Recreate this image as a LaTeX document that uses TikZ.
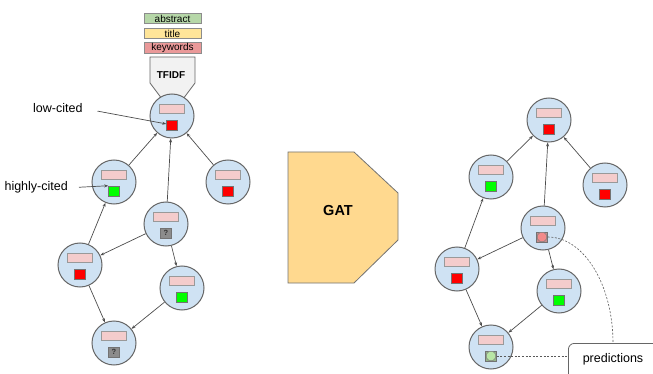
\documentclass[tikz,border=0pt]{standalone}
\usepackage{fontspec}
\setmainfont{Liberation Sans}
\usetikzlibrary{arrows.meta,shapes.geometric}

\definecolor{paperblue}{HTML}{CFE2F3}
\definecolor{barpink}{HTML}{F4CCCC}
\definecolor{abstractgreen}{HTML}{B6D7A8}
\definecolor{titleyellow}{HTML}{FFE599}
\definecolor{keywordred}{HTML}{EA9999}
\definecolor{gatorange}{HTML}{FFD98F}
\definecolor{predred}{HTML}{C98C8C}
\definecolor{octred}{HTML}{F28A8A}
\definecolor{predgreen}{HTML}{94B886}
\definecolor{octgreen}{HTML}{B9E6A5}

\begin{document}
\begin{tikzpicture}[x=1pt,y=-1pt,
  paper/.style={circle,draw=black!60,line width=1pt,fill=paperblue,minimum size=44pt,inner sep=0pt},
  bar/.style={draw=black!40,line width=0.6pt,fill=barpink,minimum width=25pt,minimum height=9pt,inner sep=0pt},
  tagbox/.style={draw=black!55,line width=0.5pt,minimum width=11pt,minimum height=10pt,inner sep=0pt},
  redtag/.style={tagbox,fill=red},
  greentag/.style={tagbox,fill=green},
  unknowntag/.style={tagbox,fill=black!45,text=black!80,font=\fontsize{7.5}{7.5}\selectfont\bfseries},
  octo/.style={regular polygon,regular polygon sides=8,draw=black!50,line width=0.5pt,minimum size=10pt,inner sep=0pt},
  field/.style={draw=black!45,line width=0.6pt,minimum width=57pt,minimum height=10.5pt,inner sep=0pt,font=\fontsize{10}{10}\selectfont},
  link/.style={-{Stealth[length=4pt,width=3pt]},draw=black!70,line width=0.7pt},
  hint/.style={draw=black!65,line width=0.6pt,dash pattern=on 2pt off 1.6pt},
  note/.style={font=\fontsize{12.5}{15}\selectfont,inner sep=1pt}]
\useasboundingbox (0,0) rectangle (653,374);

% ---------------- text fields and TFIDF ----------------
\node[field,fill=abstractgreen] (abstract) at (172.5,18.5) {abstract};
\node[field,fill=titleyellow] (title) at (172.5,33.5) {title};
\node[field,fill=keywordred] (keywords) at (172.5,48) {keywords};
\draw[draw=black!60,line width=0.8pt,fill=black!5]
  (150,57) -- (195,57) -- (195,83) -- (183,99) -- (162,99) -- (150,83) -- cycle;
\node[font=\fontsize{10}{10}\selectfont\bfseries] (tfidf) at (171,75) {TFIDF};

% ---------------- citation graph before ----------------
\node[paper] (l1) at (172,116) {}; \node[bar] (l1bar) at (172,109) {}; \node[redtag] (l1tag) at (172,125) {};
\node[paper] (l2) at (114,182) {}; \node[bar] (l2bar) at (114,175) {}; \node[greentag] (l2tag) at (114,191) {};
\node[paper] (l3) at (228,182) {}; \node[bar] (l3bar) at (228,175) {}; \node[redtag] (l3tag) at (228,191) {};
\node[paper] (l4) at (166,224) {}; \node[bar] (l4bar) at (166,217) {}; \node[unknowntag] (l4tag) at (166,233) {?};
\node[paper] (l5) at (80,265) {}; \node[bar] (l5bar) at (80,258) {}; \node[redtag] (l5tag) at (80,274) {};
\node[paper] (l6) at (182,288) {}; \node[bar] (l6bar) at (182,281) {}; \node[greentag] (l6tag) at (182,297) {};
\node[paper] (l7) at (114,343) {}; \node[bar] (l7bar) at (114,336) {}; \node[unknowntag] (l7tag) at (114,352) {?};

\draw[link] (l2) -- (l1);
\draw[link] (l4) -- (l1);
\draw[link] (l3) -- (l1);
\draw[link] (l5) -- (l2);
\draw[link] (l4) -- (l5);
\draw[link] (l4) -- (l6);
\draw[link] (l5) -- (l7);
\draw[link] (l6) -- (l7);

\node[note,anchor=base west] (lowcited) at (32,113) {low-cited};
\node[note,anchor=base east] (highlycited) at (69,191) {highly-cited};
\draw[link,shorten <=14pt] (lowcited.east) -- (l1tag);
\draw[link,shorten <=10pt] (highlycited.east) -- (l2tag.north west);

% ---------------- GAT ----------------
\draw[draw=black!55,line width=0.8pt,fill=gatorange]
  (288,152) -- (354,152) -- (398,193) -- (398,240) -- (354,283) -- (288,283) -- cycle;
\node[font=\fontsize{14.5}{17}\selectfont\bfseries] (gat) at (338,211) {GAT};

% ---------------- citation graph after ----------------
\node[paper] (r1) at (549,120) {}; \node[bar] (r1bar) at (549,113) {}; \node[redtag] (r1tag) at (549,129) {};
\node[paper] (r2) at (491,177) {}; \node[bar] (r2bar) at (491,170) {}; \node[greentag] (r2tag) at (491,186) {};
\node[paper] (r3) at (605,185) {}; \node[bar] (r3bar) at (605,178) {}; \node[redtag] (r3tag) at (605,194) {};
\node[paper] (r4) at (543,228) {}; \node[bar] (r4bar) at (543,221) {}; \node[tagbox,fill=predred] (r4tag) at (542,237) {};
\node[paper] (r5) at (457,269) {}; \node[bar] (r5bar) at (457,262) {}; \node[redtag] (r5tag) at (457,278) {};
\node[paper] (r6) at (559,291) {}; \node[bar] (r6bar) at (559,284) {}; \node[greentag] (r6tag) at (559,300) {};
\node[paper] (r7) at (491,347) {}; \node[bar] (r7bar) at (491,340) {}; \node[tagbox,fill=predgreen] (r7tag) at (491,356) {};
\node[octo,fill=octred] (r4oct) at (r4tag) {};
\node[octo,fill=octgreen] (r7oct) at (r7tag) {};

\draw[link] (r2) -- (r1);
\draw[link] (r4) -- (r1);
\draw[link] (r3) -- (r1);
\draw[link] (r5) -- (r2);
\draw[link] (r4) -- (r5);
\draw[link] (r4) -- (r6);
\draw[link] (r5) -- (r7);
\draw[link] (r6) -- (r7);

% ---------------- predictions ----------------
\node[draw=black!60,line width=0.8pt,fill=white,rounded corners=6pt,minimum width=100pt,minimum height=45pt,anchor=north west] (pred) at (568,343) {};
\node[note] (predtext) at (613,359) {predictions};
\draw[hint] (r7tag.east) -- (r7tag.east -| pred.west);
\draw[hint] (r4tag.east) .. controls (584,237) and (613,285) .. (predtext.center |- pred.north);
\end{tikzpicture}
\end{document}
